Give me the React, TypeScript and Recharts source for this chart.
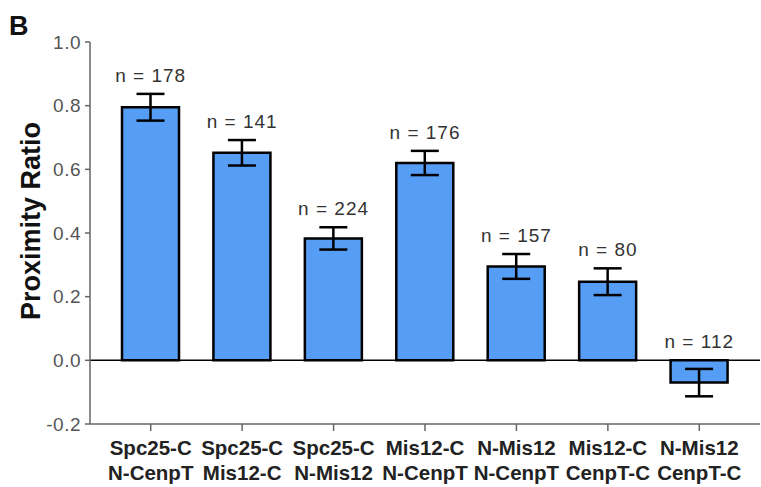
import React from "react";
import {
  ComposedChart,
  Bar,
  Line,
  XAxis,
  YAxis,
  ErrorBar,
  LabelList,
  ReferenceLine,
} from "recharts";

// pair names, split into two label lines
const topNames = ["Spc25-C", "Spc25-C", "Spc25-C", "Mis12-C", "N-Mis12", "Mis12-C", "N-Mis12"];
const bottomNames = ["N-CenpT", "Mis12-C", "N-Mis12", "N-CenpT", "N-CenpT", "CenpT-C", "CenpT-C"];
const ratios = [0.795, 0.652, 0.383, 0.62, 0.295, 0.247, -0.07];
const sems = [0.042, 0.04, 0.035, 0.038, 0.039, 0.042, 0.043];
const counts = [178, 141, 224, 176, 157, 80, 112];
const yTicks = [-0.2, 0.0, 0.2, 0.4, 0.6, 0.8, 1.0];

const data = topNames.map((t, i) => ({
  name: `${t}|${bottomNames[i]}`,
  ratio: ratios[i],
  err: sems[i],
  n: counts[i],
  // where the "n = ..." label sits: above the whisker, or the zero line for negative bars
  labelPos: ratios[i] > 0 ? ratios[i] + sems[i] : 0,
}));

const font = "Arial, 'Liberation Sans', Helvetica, sans-serif";

const PairTick = (props: any) => {
  const { x, y, payload } = props;
  const [a, b] = String(payload.value).split("|");
  return (
    <g transform={`translate(${x},${y})`}>
      <text textAnchor="middle" fontFamily={font} fontWeight="bold" fontSize={20.5} fill="#222">
        <tspan x={0} dy={22}>{a}</tspan>
        <tspan x={0} dy={25}>{b}</tspan>
      </text>
    </g>
  );
};

export default function App() {
  return (
    <div style={{ position: "absolute", left: 0, top: 0, width: 761, height: 487, background: "#fff" }}>
      <div
        style={{
          position: "absolute",
          left: 9,
          top: 13,
          fontFamily: font,
          fontWeight: "bold",
          fontSize: 27,
          lineHeight: "27px",
          color: "#111",
        }}
      >
        B
      </div>
      <ComposedChart
        width={761}
        height={487}
        data={data}
        margin={{ top: 42, right: 1, bottom: 0, left: 0 }}
      >
        <XAxis
          dataKey="name"
          height={63}
          padding={{ left: 15, right: 15 }}
          stroke="#666"
          strokeWidth={1.5}
          tickSize={7}
          tick={<PairTick />}
          interval={0}
        />
        <YAxis
          domain={[-0.2, 1.0]}
          ticks={yTicks}
          width={90}
          stroke="#666"
          strokeWidth={1.5}
          tickSize={5}
          tickMargin={4}
          tickFormatter={(v: number) => v.toFixed(1)}
          tick={{ fontFamily: font, fontSize: 19, fill: "#555", letterSpacing: 0.5 }}
          label={{
            content: (p: any) => {
              const vb = p.viewBox || { x: 0, y: 42, width: 90, height: 382 };
              const cx = vb.x + 31;
              const cy = vb.y + vb.height / 2 - 12;
              return (
                <text
                  x={cx}
                  y={cy}
                  transform={`rotate(-90, ${cx}, ${cy})`}
                  textAnchor="middle"
                  dominantBaseline="central"
                  fontFamily={font}
                  fontWeight="bold"
                  fontSize={27}
                  fill="#111"
                >
                  Proximity Ratio
                </text>
              );
            },
          }}
        />
        <ReferenceLine y={0} stroke="#000" strokeWidth={1.5} />
        <Bar
          dataKey="ratio"
          fill="#559DF5"
          stroke="#000"
          strokeWidth={2.5}
          barSize={57}
          isAnimationActive={false}
        >
          <ErrorBar dataKey="err" width={14} stroke="#000" strokeWidth={2.5} direction="y" />
        </Bar>
        <Line
          dataKey="labelPos"
          stroke="none"
          dot={false}
          activeDot={false}
          legendType="none"
          isAnimationActive={false}
        >
          <LabelList
            dataKey="n"
            position="top"
            offset={12}
            formatter={(v: any) => `n = ${v}`}
            style={{ fontFamily: font, fontSize: 19, fill: "#333", letterSpacing: 1 }}
          />
        </Line>
      </ComposedChart>
    </div>
  );
}
